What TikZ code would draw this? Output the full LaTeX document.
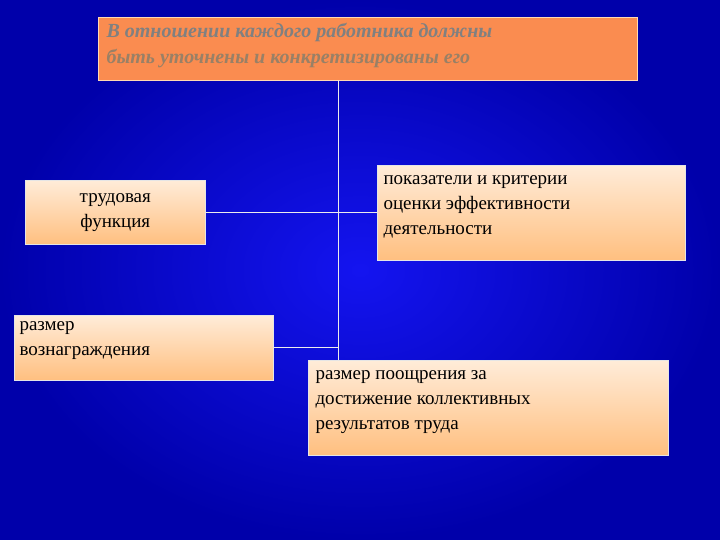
\documentclass[tikz,border=0pt]{standalone}
\usepackage{fontspec}
\setmainfont{Liberation Serif}
\begin{document}
\begin{tikzpicture}[x=1pt,y=-1pt,
  box/.style={draw=white!80!gray,line width=0.6pt,top color=white!85!orange,bottom color=orange!50!white,inner sep=4pt},
  ln/.style={draw=white!85!gray,line width=0.7pt}]
\fill[inner color={rgb,255:red,20;green,20;blue,240},outer color={rgb,255:red,0;green,0;blue,170}] (0,0) rectangle (720,540);
\useasboundingbox (0,0) rectangle (720,540);
\node[draw=white!70!orange,fill={rgb,255:red,250;green,140;blue,80},minimum width=539pt,minimum height=63pt,anchor=north west,inner sep=0] (top) at (98,17) {};
\node[anchor=north west,text=gray,font=\bfseries\itshape\fontsize{20}{26}\selectfont,align=left] (tt) at (103,20) {В отношении каждого работника должны\\\textcolor{gray!80!orange}{быть уточнены и конкретизированы его}};
\node[box,minimum width=180pt,minimum height=64pt,anchor=north west,align=center,font=\fontsize{19}{25}\selectfont] (l1) at (25,180) {};
\node[font=\fontsize{19}{25}\selectfont,align=center] (l1t) at (l1.center) {трудовая\\функция};
\node[box,minimum width=308pt,minimum height=95pt,anchor=north west] (r1) at (377,165) {};
\node[font=\fontsize{19}{25}\selectfont,align=left,anchor=north west] (r1t) at (380,172) {показатели и критерии\\оценки эффективности\\деятельности};
\node[box,minimum width=259pt,minimum height=65pt,anchor=north west] (l2) at (14,315) {};
\node[font=\fontsize{19}{25}\selectfont,align=left,anchor=north west] (l2t) at (16,318) {размер\\вознаграждения};
\node[box,minimum width=360pt,minimum height=95pt,anchor=north west] (r2) at (308,360) {};
\node[font=\fontsize{19}{25}\selectfont,align=left,anchor=north west] (r2t) at (312,367) {размер поощрения за\\достижение коллективных\\результатов труда};
\coordinate (a) at (338,212);
\coordinate (b) at (338,347);
\draw[ln] (top.south -| a) -- (b |- r2.north);
\draw[ln] (l1.east) -- (r1.west |- l1.east);
\draw[ln] (l2.east |- b) -- (b);
\end{tikzpicture}
\end{document}
